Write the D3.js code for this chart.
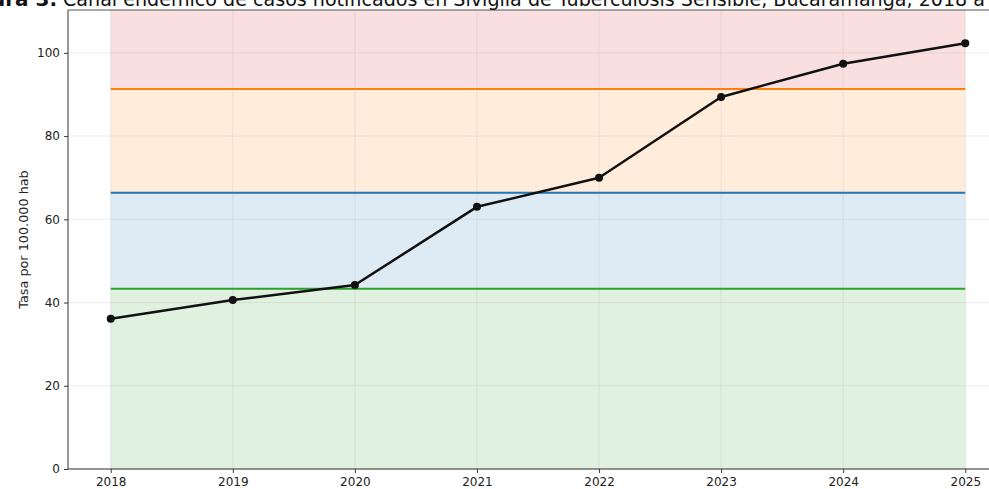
<!DOCTYPE html>
<html>
<head>
<meta charset="utf-8">
<script src="https://cdn.jsdelivr.net/npm/d3@7"></script>
<style>
  body { margin: 0; background: #fff; }
  svg { display: block; }
  text { font-family: "DejaVu Sans", sans-serif; }
</style>
</head>
<body>
<div id="chart"></div>
<script>
// data
var years = [2018, 2019, 2020, 2021, 2022, 2023, 2024, 2025];
var tasa = [36.1, 40.6, 44.2, 63.0, 70.0, 89.4, 97.4, 102.3];
var umbrales = [43.3, 66.4, 91.3];          // seguridad / exito / alerta limits
var zonaColors = ["#2ca02c", "#1f77b4", "#ff7f0e", "#d62728"];
var yTicks = [0, 20, 40, 60, 80, 100];
var titleBold = "Figura 3.";
var titleRest = "Canal endémico de casos notificados en Sivigila de Tuberculosis Sensible, Bucaramanga, 2018 a";

var W = 989, H = 489;
var mLeft = 68, mRight = 1008, mTop = 10, mBottom = 469;

var svg = d3.select('#chart').append('svg')
    .attr('width', W)
    .attr('height', H);

var x = d3.scaleLinear().domain([2018 - 0.35, 2025 + 0.35]).range([mLeft, mRight]);
var y = d3.scaleLinear().domain([0, 110.3]).range([mBottom, mTop]);

// bands
var limits = [0].concat(umbrales).concat([110.3]);
for (var i = 0; i < 4; i++) {
    svg.append('rect')
        .attr('x', x(2018))
        .attr('width', x(2025) - x(2018))
        .attr('y', y(limits[i + 1]))
        .attr('height', y(limits[i]) - y(limits[i + 1]))
        .attr('fill', zonaColors[i])
        .attr('fill-opacity', 0.15);
}

// grid
var grid = svg.append('g');
grid.selectAll('line.gx').data(years).enter().append('line')
    .attr('x1', function (d) { return x(d); })
    .attr('x2', function (d) { return x(d); })
    .attr('y1', mTop).attr('y2', mBottom)
    .attr('stroke', '#b0b0b0').attr('stroke-opacity', 0.3).attr('stroke-width', 0.8);
grid.selectAll('line.gy').data(yTicks).enter().append('line')
    .attr('y1', function (d) { return y(d); })
    .attr('y2', function (d) { return y(d); })
    .attr('x1', mLeft).attr('x2', mRight)
    .attr('stroke', '#b0b0b0').attr('stroke-opacity', 0.3).attr('stroke-width', 0.8);

// threshold lines
umbrales.forEach(function (u, i) {
    svg.append('line')
        .attr('x1', x(2018)).attr('x2', x(2025))
        .attr('y1', y(u)).attr('y2', y(u))
        .attr('stroke', zonaColors[i])
        .attr('stroke-width', 2);
});

// axes
var yAxis = svg.append('g')
    .attr('transform', 'translate(' + mLeft + ',0)')
    .call(d3.axisLeft(y).tickValues(yTicks).tickSize(4).tickPadding(4));
var xAxis = svg.append('g')
    .attr('transform', 'translate(0,' + mBottom + ')')
    .call(d3.axisBottom(x).tickValues(years).tickFormat(d3.format('d')).tickSize(4).tickPadding(4));
[yAxis, xAxis].forEach(function (a) {
    a.select('.domain').remove();
    a.selectAll('line').attr('stroke', '#222').attr('stroke-width', 0.9);
    a.selectAll('text').attr('font-size', 12).attr('fill', '#222')
        .attr('font-family', '"DejaVu Sans", sans-serif');
});

// spines
svg.append('line').attr('x1', mLeft).attr('x2', mLeft).attr('y1', mTop).attr('y2', mBottom)
    .attr('stroke', '#333').attr('stroke-width', 1);
svg.append('line').attr('x1', mLeft).attr('x2', mRight).attr('y1', mBottom).attr('y2', mBottom)
    .attr('stroke', '#333').attr('stroke-width', 1);
svg.append('line').attr('x1', mLeft).attr('x2', mRight).attr('y1', mTop).attr('y2', mTop)
    .attr('stroke', '#555').attr('stroke-width', 1);

// series
var line = d3.line()
    .x(function (d, i) { return x(years[i]); })
    .y(function (d) { return y(d); });
svg.append('path').datum(tasa)
    .attr('d', line)
    .attr('fill', 'none')
    .attr('stroke', '#111')
    .attr('stroke-width', 2.5)
    .attr('stroke-linejoin', 'round');
svg.selectAll('circle').data(tasa).enter().append('circle')
    .attr('cx', function (d, i) { return x(years[i]); })
    .attr('cy', function (d) { return y(d); })
    .attr('r', 4)
    .attr('fill', '#111');

// y label
svg.append('text')
    .attr('transform', 'translate(24,' + ((mTop + mBottom) / 2) + ') rotate(-90)')
    .attr('text-anchor', 'middle')
    .attr('dominant-baseline', 'middle')
    .attr('font-size', 12.8)
    .attr('fill', '#222')
    .text('Tasa por 100.000 hab');

// title (cropped at top in the reference)
svg.append('text')
    .attr('x', 57).attr('y', 6)
    .attr('text-anchor', 'end')
    .attr('font-family', '"Liberation Sans", sans-serif')
    .attr('font-size', 20)
    .attr('font-weight', 'bold')
    .attr('fill', '#111')
    .text(titleBold);
svg.append('text')
    .attr('x', 63).attr('y', 6)
    .attr('font-family', '"Liberation Sans", sans-serif')
    .attr('font-size', 20)
    .attr('fill', '#111')
    .attr('textLength', 985 - 63)
    .attr('lengthAdjust', 'spacingAndGlyphs')
    .text(titleRest);
</script>
</body>
</html>
